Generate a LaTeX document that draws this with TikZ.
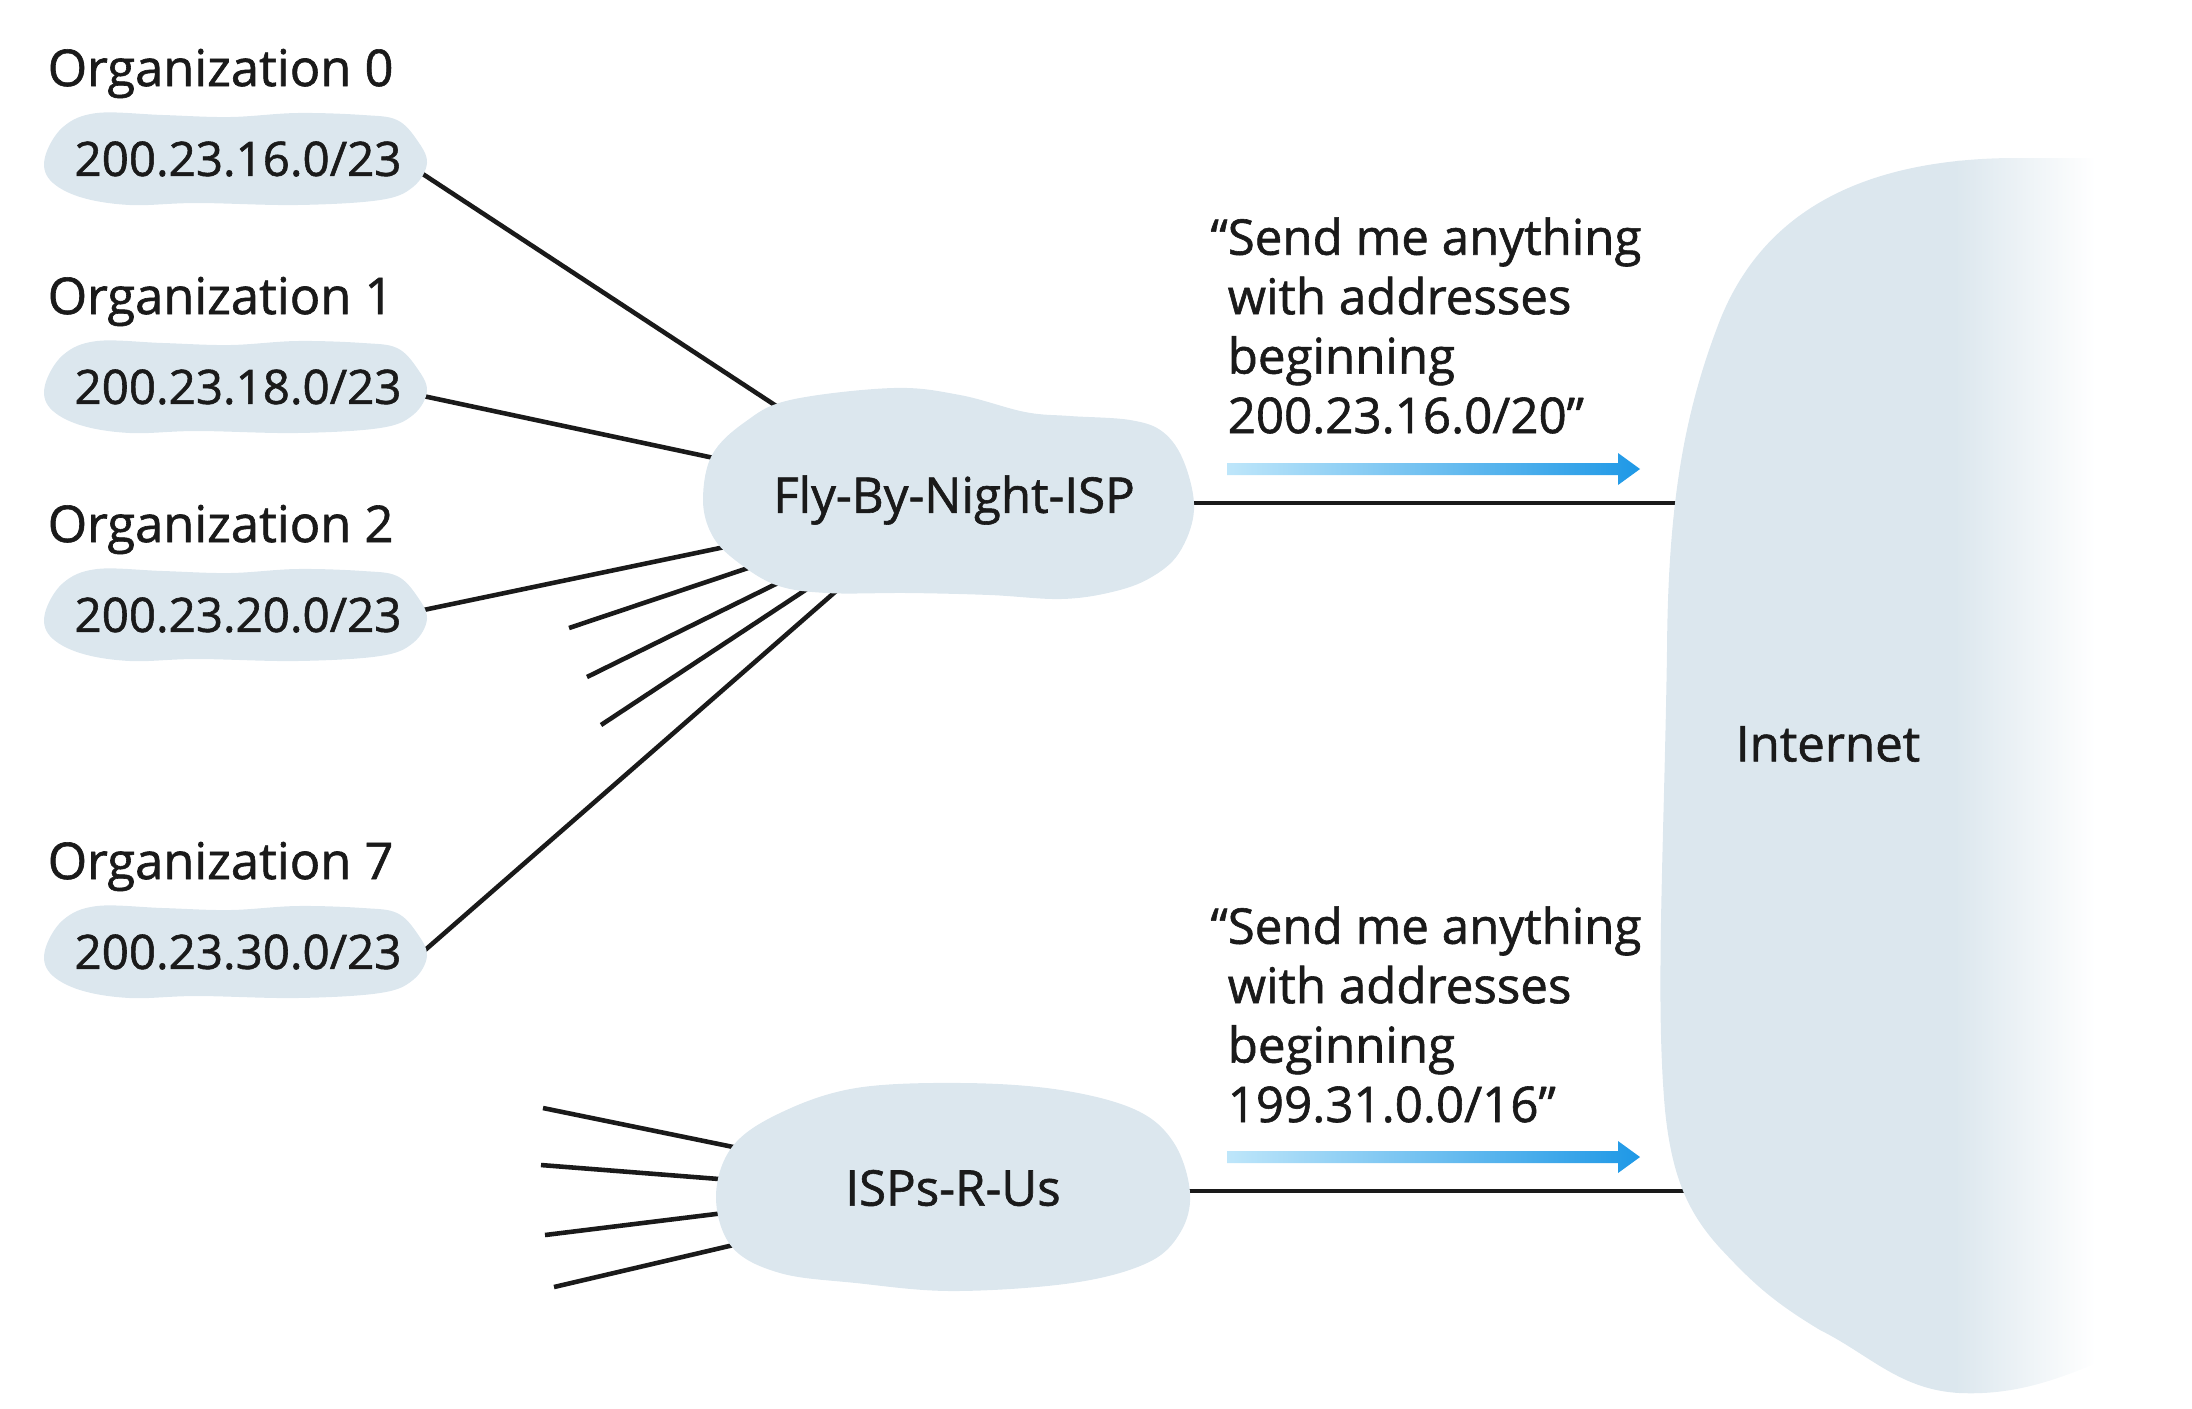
\documentclass[tikz,border=0pt]{standalone}
\usepackage{fontspec}
\setmainfont{Open Sans}[UprightFeatures={FakeBold=1.2}]
\usetikzlibrary{calc}

\definecolor{cloudblue}{RGB}{220,231,238}
\definecolor{advlight}{RGB}{190,230,250}
\definecolor{advmid}{RGB}{28,178,238}
\definecolor{advdark}{RGB}{30,152,230}
\definecolor{inkblack}{RGB}{26,26,26}

\pgfdeclarelayer{back}
\pgfsetlayers{back,main}

% blob behind each organization prefix
\newcommand{\orgblob}[1]{%
  \fill[cloudblue, shift={#1}] plot[smooth cycle, tension=0.6] coordinates {
    (-191,-2) (-186,21) (-156,38) (-106,46) (-39,44) (61,46) (144,41) (177,28)
    (191,4) (181,-19) (161,-39) (127,-44) (61,-46) (-6,-42) (-73,-44) (-139,-46) (-173,-32)};}

\begin{document}
\begin{tikzpicture}[
  x=0.01cm, y=-0.01cm,
  every node/.style={font=\fontsize{14}{16.9}\selectfont, text=inkblack, inner sep=2pt},
  orglabel/.style={anchor=base west, font=\fontsize{14.4}{17}\selectfont},
  netprefix/.style={font=\fontsize{13.5}{16}\selectfont},
  advtext/.style={anchor=base west, align=left},
  link/.style={draw=inkblack, line width=1.3pt}
]
\useasboundingbox (0,0) rectangle (2192,1408);

% Internet
\begin{scope}
  \clip (2150,158) -- (2010,158) .. controls (1850,160) and (1760,220) .. (1720,320)
    .. controls (1685,410) and (1668,500) .. (1667,650)
    .. controls (1664,850) and (1655,1000) .. (1665,1110)
    .. controls (1672,1180) and (1690,1215) .. (1720,1248)
    .. controls (1750,1280) and (1770,1300) .. (1820,1330)
    .. controls (1870,1355) and (1900,1390) .. (1960,1393)
    .. controls (2030,1396) and (2080,1370) .. (2150,1340) -- cycle;
  \fill[cloudblue] (1600,150) rectangle (1960,1400);
  \shade[left color=cloudblue, right color=white] (1955,150) rectangle (2095,1400);
  \fill[white] (2094,150) rectangle (2160,1400);
\end{scope}
\node (inet) at (1828,744) {Internet};

% ISP clouds
\fill[cloudblue] plot[smooth cycle, tension=0.6] coordinates {
  (703,500) (712,455) (745,422) (790,400) (893,388) (960,395) (1025,412) (1070,416)
  (1130,420) (1163,432) (1184,462) (1194,510) (1179,553) (1150,578) (1112,592)
  (1061,599) (990,595) (908,593) (827,593) (776,585) (735,560) (712,535)};
\node (fbn) at (954,500) {Fly-By-Night-ISP};

\fill[cloudblue] plot[smooth cycle, tension=0.6] coordinates {
  (716,1197) (732,1147) (780,1113) (856,1088) (964,1083) (1061,1090) (1136,1110)
  (1174,1143) (1190,1193) (1180,1233) (1147,1263) (1072,1283) (953,1291) (856,1283)
  (780,1273) (732,1247)};
\node (isp) at (953,1188) {ISPs-R-Us};

% ports on the clouds, free ends of the other links
\coordinate (fbn-p0) at (790,415);
\coordinate (fbn-p1) at (728,461);
\coordinate (fbn-p2) at (739,544);
\coordinate (fbn-p7) at (843,585);
\foreach \i/\ax/\ay/\bx/\by in {a/569/628/760/564, b/587/677/786/579, c/601/725/813/585} {
  \coordinate (fbn-f\i) at (\ax,\ay);
  \coordinate (fbn-s\i) at (\bx,\by);
}
\foreach \i/\ax/\ay/\bx/\by in {a/543/1108/748/1150, b/541/1165/732/1180, c/545/1235/732/1212, d/554/1287/742/1243} {
  \coordinate (isp-f\i) at (\ax,\ay);
  \coordinate (isp-s\i) at (\bx,\by);
}

% organizations
\foreach \i/\dy/\net in {0/0/16, 1/228/18, 2/456/20, 7/793/30} {
  \orgblob{(236,{159+\dy})}
  \node[orglabel] (lab\i) at (40,{86+\dy}) {Organization \i};
  \node[netprefix] (org\i) at (238,{159+\dy}) {200.23.\net.0/23};
}

% links
\begin{pgfonlayer}{back}
  \draw[link] ($(org0.east)+(0,6)$) -- (fbn-p0);
  \draw[link] ($(org1.east)+(0,6)$) -- (fbn-p1);
  \draw[link] ($(org2.east)+(0,-2)$) -- (fbn-p2);
  \draw[link] ($(org7.east)+(0,12)$) -- (fbn-p7);
  \foreach \i in {a,b,c} \draw[link] (fbn-f\i) -- (fbn-s\i);
  \foreach \i in {a,b,c,d} \draw[link] (isp-f\i) -- (isp-s\i);
  \draw[link] ($(fbn.east)+(0,3)$) -- ($(fbn.east -| inet.west)+(0,3)$);
  \draw[link] ($(isp.east)+(0,3)$) -- ($(isp.east -| inet.west)+(0,3)$);
\end{pgfonlayer}

% route advertisements
\foreach \dy in {0,688} {
  \shade[left color=advlight, middle color=advmid, right color=advdark]
    (1227,{463+\dy}) -- (1618,{463+\dy}) -- (1618,{453+\dy}) -- (1640,{469+\dy})
    -- (1618,{485+\dy}) -- (1618,{475+\dy}) -- (1227,{475+\dy}) -- cycle;
}
\node[advtext] (adv0) at (1220,433) {\llap{“}Send me anything\\with addresses\\beginning\\200.23.16.0/20”};
\node[advtext] (adv1) at (1220,1122) {\llap{“}Send me anything\\with addresses\\beginning\\199.31.0.0/16”};

\end{tikzpicture}
\end{document}
